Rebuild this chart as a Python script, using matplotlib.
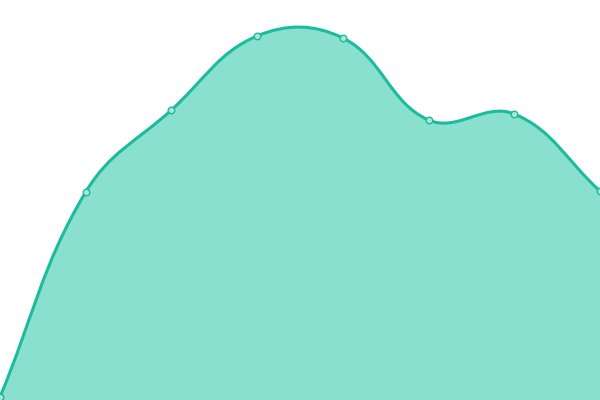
import matplotlib
matplotlib.use("Agg")
import matplotlib.pyplot as plt
import numpy as np
from matplotlib.path import Path
from matplotlib.patches import PathPatch

# values (pixel height from bottom of a 400 px canvas)
labels = ["A", "B", "C", "D", "E", "F", "G", "H"]
values = [3, 208, 290, 364, 362, 280, 286, 209]

LINE = "#1abc9c"
FILL = "#8ae0cf"
TENSION = 0.4


def spline_controls(pts, t):
    """Chart.js style spline control points in display space."""
    n = len(pts)
    cps = []
    for i in range(n):
        prev = pts[max(i - 1, 0)]
        cur = pts[i]
        nxt = pts[min(i + 1, n - 1)]
        d01 = np.hypot(*(cur - prev))
        d12 = np.hypot(*(nxt - cur))
        tot = d01 + d12
        s01 = d01 / tot if tot else 0
        s12 = d12 / tot if tot else 0
        fa, fb = t * s01, t * s12
        cps.append((cur - fa * (nxt - prev), cur + fb * (nxt - prev)))
    return cps


fig = plt.figure(figsize=(6, 4), dpi=100)
ax = fig.add_axes([0, 0, 1, 1])
ax.set_xlim(0, len(labels) - 1)
ax.set_ylim(0, 400)
ax.axis("off")

x = np.arange(len(labels))
disp = ax.transData.transform(np.column_stack([x, values]))
cps = spline_controls(disp, TENSION)

verts = [disp[0]]
codes = [Path.MOVETO]
for i in range(len(disp) - 1):
    verts += [cps[i][1], cps[i + 1][0], disp[i + 1]]
    codes += [Path.CURVE4] * 3

inv = ax.transData.inverted()
line_verts = inv.transform(np.array(verts))

fill_verts = list(line_verts) + [(x[-1], 0), (x[0], 0), line_verts[0]]
fill_codes = codes + [Path.LINETO, Path.LINETO, Path.CLOSEPOLY]
ax.add_patch(PathPatch(Path(fill_verts, fill_codes), facecolor=FILL,
                       edgecolor="none", clip_on=False))
ax.add_patch(PathPatch(Path(line_verts, codes), facecolor="none",
                       edgecolor=LINE, linewidth=2.2, clip_on=False))
ax.scatter(x, values, s=22, facecolor="#a6e8da", edgecolor=LINE,
           linewidth=1, zorder=5, clip_on=False)

fig.savefig("out.png", dpi=100)
